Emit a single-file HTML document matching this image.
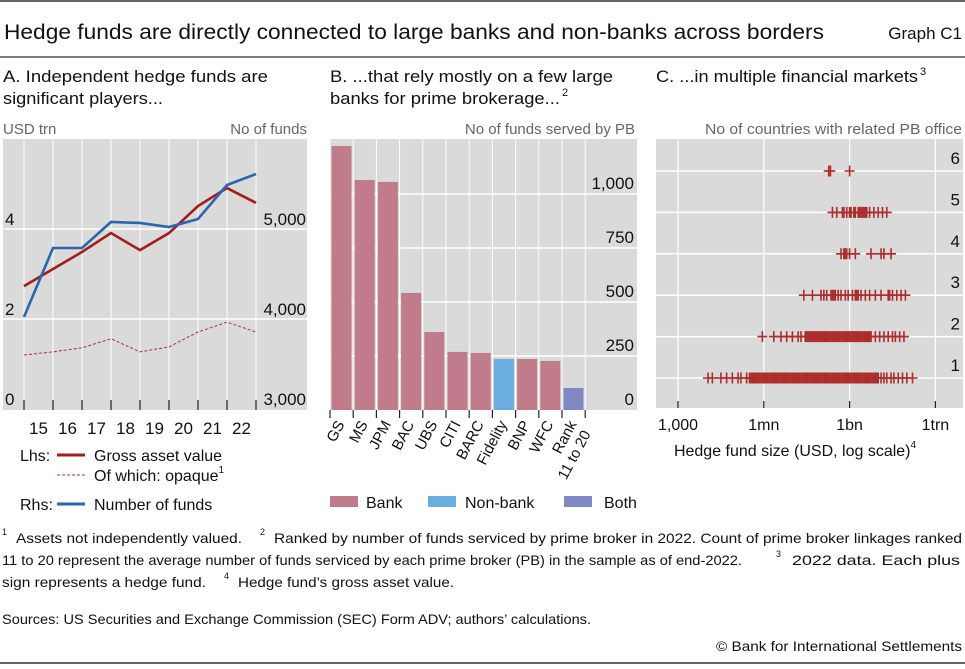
<!DOCTYPE html>
<html><head><meta charset="utf-8"><style>
body{margin:0;background:#fff;font-family:"Liberation Sans",sans-serif;}
svg text{font-family:"Liberation Sans",sans-serif;}
</style></head><body>
<svg id="s" width="965" height="664" xmlns="http://www.w3.org/2000/svg">
<line x1="0" y1="1" x2="965" y2="1" stroke="#333" stroke-width="1.5"/>
<text x="4" y="39" font-size="21" fill="#111" textLength="820" lengthAdjust="spacingAndGlyphs">Hedge funds are directly connected to large banks and non-banks across borders</text>
<text x="962" y="39" font-size="17" fill="#111" text-anchor="end">Graph C1</text>
<line x1="0" y1="57" x2="965" y2="57" stroke="#333" stroke-width="1.2"/>
<text font-size="17" fill="#111"><tspan x="3" y="82" textLength="265" lengthAdjust="spacingAndGlyphs">A. Independent hedge funds are</tspan><tspan x="3" y="104" textLength="160" lengthAdjust="spacingAndGlyphs">significant players...</tspan></text>
<text font-size="17" fill="#111"><tspan x="330" y="82" textLength="283" lengthAdjust="spacingAndGlyphs">B. ...that rely mostly on a few large</tspan><tspan x="330" y="104" textLength="230" lengthAdjust="spacingAndGlyphs">banks for prime brokerage...</tspan><tspan font-size="11" x="562" y="96">2</tspan></text>
<text font-size="17" fill="#111"><tspan x="656" y="82" textLength="262" lengthAdjust="spacingAndGlyphs">C. ...in multiple financial markets</tspan><tspan font-size="11" x="920" y="75">3</tspan></text>
<text x="3" y="134" font-size="15" fill="#666">USD trn</text>
<text x="307" y="134" font-size="15" fill="#666" text-anchor="end">No of funds</text>
<text x="635" y="134" font-size="15" fill="#666" text-anchor="end">No of funds served by PB</text>
<text x="962" y="134" font-size="15" fill="#666" text-anchor="end" textLength="257" lengthAdjust="spacingAndGlyphs">No of countries with related PB office</text>
<rect x="3" y="139" width="304" height="271" fill="#dadada"/>
<rect x="330" y="139" width="307" height="271" fill="#dadada"/>
<rect x="656" y="139" width="307" height="269" fill="#dadada"/>
<g id="ga"></g><g id="gb"></g><g id="gc"></g>
<text x="20" y="461" font-size="16" fill="#111">Lhs:</text>
<line x1="57" y1="455" x2="85" y2="455" stroke="#a51c1c" stroke-width="3"/>
<text x="94" y="461" font-size="16" fill="#111">Gross asset value</text>
<line x1="57" y1="475" x2="85" y2="475" stroke="#b03030" stroke-width="1" stroke-dasharray="3,2"/>
<text x="94" y="481" font-size="16" fill="#111">Of which: opaque<tspan font-size="10" dy="-8">1</tspan></text>
<text x="20" y="510" font-size="16" fill="#111">Rhs:</text>
<line x1="57" y1="504" x2="85" y2="504" stroke="#2a65b0" stroke-width="3"/>
<text x="94" y="510" font-size="16" fill="#111">Number of funds</text>
<rect x="330" y="496" width="28" height="11" fill="#c07c8a"/>
<text x="366" y="508" font-size="16" fill="#111">Bank</text>
<rect x="428" y="496" width="28" height="11" fill="#6aaee0"/>
<text x="465" y="508" font-size="16" fill="#111">Non-bank</text>
<rect x="564" y="496" width="28" height="11" fill="#8088c4"/>
<text x="604" y="508" font-size="16" fill="#111">Both</text>
<text x="795" y="456" font-size="16" fill="#111" text-anchor="middle">Hedge fund size (USD, log scale)<tspan font-size="10" dy="-8">4</tspan></text>
<g font-size="14" fill="#111">
<text x="2" y="535" font-size="9">1</text>
<text x="16" y="543" textLength="226" lengthAdjust="spacingAndGlyphs">Assets not independently valued.</text>
<text x="260" y="535" font-size="9">2</text>
<text x="274" y="543" textLength="688" lengthAdjust="spacingAndGlyphs">Ranked by number of funds serviced by prime broker in 2022. Count of prime broker linkages ranked</text>
<text x="2" y="565" textLength="740" lengthAdjust="spacingAndGlyphs">11 to 20 represent the average number of funds serviced by each prime broker (PB) in the sample as of end-2022.</text>
<text x="776" y="557" font-size="9">3</text>
<text x="792" y="565" textLength="168" lengthAdjust="spacingAndGlyphs">2022 data. Each plus</text>
<text x="2" y="587" textLength="204" lengthAdjust="spacingAndGlyphs">sign represents a hedge fund.</text>
<text x="224" y="579" font-size="9">4</text>
<text x="238" y="587" textLength="216" lengthAdjust="spacingAndGlyphs">Hedge fund’s gross asset value.</text>
<text x="2" y="624" textLength="589" lengthAdjust="spacingAndGlyphs">Sources: US Securities and Exchange Commission (SEC) Form ADV; authors’ calculations.</text>
<text x="962" y="651" text-anchor="end" textLength="246" lengthAdjust="spacingAndGlyphs">© Bank for International Settlements</text>
</g>
<line x1="0" y1="663" x2="965" y2="663" stroke="#333" stroke-width="1.5"/>
</svg>
<script>
const aGross=[2.73,3.11,3.49,3.91,3.53,3.91,4.51,4.91,4.58];
const aOpaque=[1.2,1.27,1.36,1.56,1.27,1.38,1.71,1.93,1.71];
const aFunds=[4022,4789,4789,5078,5067,5022,5111,5489,5611];
const aYearLabels=["15","16","17","18","19","20","21","22"];
const aLeftTicks=[0,2,4];
const aRightTicks=[3000,4000,5000];
const bCats=["GS","MS","JPM","BAC","UBS","CITI","BARC","Fidelity","BNP","WFC","Rank 11 to 20"];
const bValues=[1222,1065,1056,542,361,269,264,236,236,227,102];
const bTypes=["bank","bank","bank","bank","bank","bank","bank","nonbank","bank","bank","both"];
const bTicks=[0,250,500,750,1000];
const cRows=[1,2,3,4,5,6];
const cXTicks=[3,6,9,12];
const cXLabels=["1,000","1mn","1bn","1trn"];
const cRow1=[4.05,4.2,4.5,4.7,4.9,5.1,5.2,5.4,5.5,5.55,5.6,5.65,5.7,5.75,5.8,5.85,5.9,5.95,6.0,6.05,6.1,6.15,6.2,6.25,6.3,6.35,6.4,6.45,6.5,6.55,6.6,6.65,6.7,6.75,6.8,6.85,6.9,6.95,7.0,7.05,7.1,7.15,7.2,7.25,7.3,7.35,7.4,7.45,7.5,7.55,7.6,7.65,7.7,7.75,7.8,7.85,7.9,7.95,8.0,8.05,8.1,8.15,8.2,8.25,8.3,8.35,8.4,8.45,8.5,8.55,8.6,8.65,8.7,8.75,8.8,8.85,8.9,8.95,9.0,9.05,9.1,9.15,9.2,9.25,9.3,9.35,9.4,9.45,9.5,9.55,9.6,9.65,9.7,9.75,9.8,9.85,9.9,9.95,10.0,10.1,10.2,10.3,10.45,10.55,10.7,10.85,11.0,11.2];
const cRow2=[5.95,6.35,6.6,6.8,7.0,7.2,7.3,7.45,7.5,7.55,7.6,7.65,7.7,7.75,7.8,7.85,7.9,7.95,8.0,8.05,8.1,8.15,8.2,8.25,8.3,8.35,8.4,8.45,8.5,8.55,8.6,8.65,8.7,8.75,8.8,8.85,8.9,8.95,9.0,9.05,9.1,9.15,9.2,9.25,9.3,9.35,9.4,9.45,9.5,9.55,9.6,9.65,9.7,9.75,9.9,10.05,10.2,10.35,10.5,10.6,10.75,10.9];
const cRow3=[7.4,7.7,8.0,8.1,8.2,8.35,8.4,8.45,8.5,8.6,8.7,8.85,8.95,9.1,9.2,9.25,9.3,9.4,9.55,9.7,9.9,10.1,10.35,10.4,10.5,10.65,10.8,10.95];
const cRow4=[8.7,8.8,8.85,8.9,9.0,9.2,9.75,10.1,10.2,10.45];
const cRow5=[8.4,8.55,8.75,8.8,8.9,9.0,9.05,9.15,9.2,9.3,9.35,9.4,9.45,9.5,9.55,9.6,9.7,9.85,10.0,10.15,10.3];
const cRow6=[8.27,8.33,9.0];
const NS="http://www.w3.org/2000/svg";
function mk(p,t,at){const e=document.createElementNS(NS,t);for(const k in at)e.setAttribute(k,at[k]);p.appendChild(e);return e;}
const ga=document.getElementById('ga');
const axL=v=>409-v*45, axR=v=>409-(v-3000)*0.09, axX=i=>24+i*29;
aLeftTicks.forEach(v=>{if(v>0){const l=mk(ga,'line',{x1:3,x2:307,y1:axL(v),y2:axL(v),stroke:'#fff','stroke-width':1.5});

}
const t=mk(ga,'text',{x:5,y:axL(v)-4,'font-size':17,fill:'#111'});t.textContent=v;

});
aRightTicks.forEach(v=>{const t=mk(ga,'text',{x:306,y:axR(v)-4,'font-size':17,fill:'#111','text-anchor':'end'});t.textContent=v.toLocaleString('en-US');

});
aGross.forEach((v,i)=>{const l=mk(ga,'line',{x1:axX(i),x2:axX(i),y1:139,y2:410,stroke:'#fff','stroke-width':1});


const k=mk(ga,'line',{x1:axX(i),x2:axX(i),y1:400,y2:410,stroke:'#222','stroke-width':1.2});

});
aYearLabels.forEach((s,i)=>{const t=mk(ga,'text',{x:axX(i)+14.5,y:434,'font-size':17,fill:'#111','text-anchor':'middle'});t.textContent=s;

});
function pl(arr,f){return arr.map((v,i)=>axX(i)+','+f(v)).join(' ');}
let p=mk(ga,'polyline',{points:pl(aOpaque,axL),fill:'none',stroke:'#b03030','stroke-width':1,'stroke-dasharray':'3,2'});


p=mk(ga,'polyline',{points:pl(aGross,axL),fill:'none',stroke:'#a51c1c','stroke-width':2.6});


p=mk(ga,'polyline',{points:pl(aFunds,axR),fill:'none',stroke:'#2a65b0','stroke-width':2.6});


const gb=document.getElementById('gb');
const by=v=>410-v*0.216, bx=i=>330+i*23.2;
const col={bank:'#c07c8a',nonbank:'#6aaee0',both:'#8088c4'};
bTicks.forEach(v=>{if(v>0){const l=mk(gb,'line',{x1:330,x2:637,y1:by(v),y2:by(v),stroke:'#fff','stroke-width':1.5});

}
const t=mk(gb,'text',{x:634,y:by(v)-5,'font-size':17,fill:'#111','text-anchor':'end'});t.textContent=v.toLocaleString('en-US');

});
for(let i=0;i<=bCats.length;i++){const l=mk(gb,'line',{x1:bx(i),x2:bx(i),y1:139,y2:410,stroke:'#fff','stroke-width':1});


const k=mk(gb,'line',{x1:bx(i),x2:bx(i),y1:410,y2:418,stroke:'#222','stroke-width':1.2});

}
bValues.forEach((v,i)=>{const r=mk(gb,'rect',{x:bx(i)+1.5,y:by(v),width:20,height:410-by(v),fill:col[bTypes[i]]});


const cx=bx(i)+15, lines=bCats[i]==='Rank 11 to 20'?['Rank','11 to 20']:[bCats[i]];
const g=mk(gb,'g',{transform:'translate('+cx+' 424) rotate(-62)'});


lines.forEach((s,j)=>{const t=mk(g,'text',{x:j?-2:0,y:j*17,'font-size':15,fill:'#111','text-anchor':'end'});t.textContent=s;});});
const gc=document.getElementById('gc');
const cx=v=>678+(v-3)*28.6, cy=r=>378-(r-1)*41.4;
cXTicks.forEach((v,i)=>{const l=mk(gc,'line',{x1:cx(v),x2:cx(v),y1:139,y2:408,stroke:'#fff','stroke-width':1.2});


const k=mk(gc,'line',{x1:cx(v),x2:cx(v),y1:401,y2:408,stroke:'#222','stroke-width':1.2});


const t=mk(gc,'text',{x:cx(v),y:430,'font-size':16,fill:'#111','text-anchor':'middle'});t.textContent=cXLabels[i];

});
cRows.forEach(r=>{const l=mk(gc,'line',{x1:656,x2:963,y1:cy(r),y2:cy(r),stroke:'#fff','stroke-width':1.5});


const t=mk(gc,'text',{x:960,y:cy(r)-7,'font-size':17,fill:'#111','text-anchor':'end'});t.textContent=r;

});
[cRow1,cRow2,cRow3,cRow4,cRow5,cRow6].forEach((arr,ri)=>{const y=cy(ri+1);
arr.forEach(v=>{const x=cx(v);const g=mk(gc,'path',{d:'M'+(x-5)+' '+y+'H'+(x+5)+'M'+x+' '+(y-5.5)+'V'+(y+5.5),stroke:'#ad2c2c','stroke-width':1.6,fill:'none'});

});});
</script>
</body></html>
